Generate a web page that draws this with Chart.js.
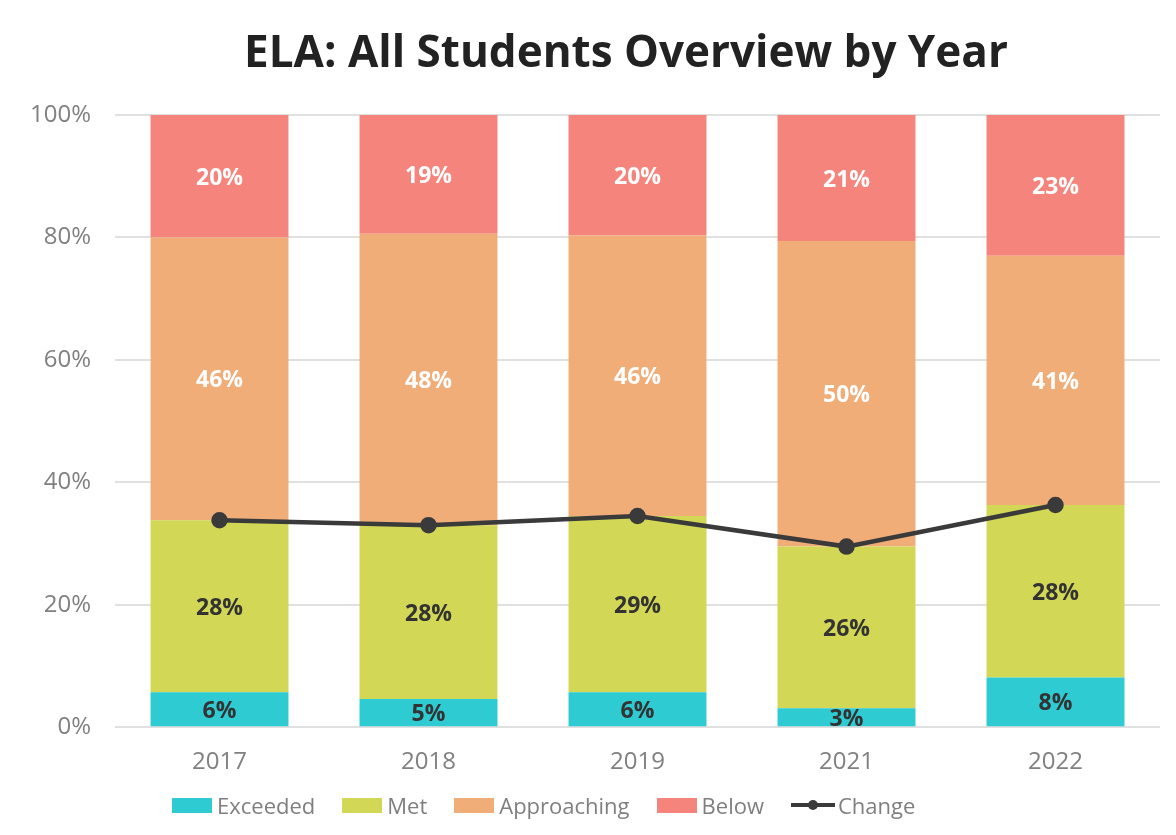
<!DOCTYPE html>
<html>
<head>
<meta charset="utf-8">
<script src="https://cdn.jsdelivr.net/npm/chart.js@4.4.1/dist/chart.umd.min.js"></script>
<style>
	html, body { margin: 0; padding: 0; background: #fff; }
	#wrap { position: relative; width: 1176px; height: 835px; }
	#title {
		position: absolute; left: 126px; width: 1000px; top: 22px;
		text-align: center; white-space: nowrap;
		font-family: 'Open Sans', sans-serif; font-weight: bold; font-size: 44px;
		line-height: 56px; color: #222;
	}
	#legend {
		position: absolute; left: 172px; top: 790px; height: 30px;
		display: flex; align-items: center; white-space: nowrap;
		font-family: 'Open Sans', sans-serif; font-size: 22px; color: #7f7f7f;
	}
	#legend .item { display: flex; align-items: center; margin-right: 27px; }
	#legend .box { width: 40px; height: 15px; margin-right: 5px; }
	#legend .ln { position: relative; width: 44px; height: 4px; background: #3a3a3a; margin-right: 3px; }
	#legend .ln::after {
		content: ''; position: absolute; left: 17px; top: -3px;
		width: 10px; height: 10px; border-radius: 50%; background: #3a3a3a;
	}
</style>
</head>
<body>
<div id="wrap">
	<canvas id="chart" width="1176" height="835"></canvas>
	<div id="title">ELA: All Students Overview by Year</div>
	<div id="legend"></div>
</div>
<script>
(function () {
	'use strict';

	var years = ['2017', '2018', '2019', '2021', '2022'];
	var exceeded = [5.7, 4.6, 5.7, 3.1, 8.1];
	var met = [28.1, 28.4, 28.8, 26.4, 28.2];
	var approaching = [46.2, 47.6, 45.8, 49.9, 40.7];
	var below = [20.0, 19.4, 19.7, 20.6, 23.0];
	var change = [33.8, 33.0, 34.5, 29.5, 36.3];
	var yTicks = [0, 20, 40, 60, 80, 100];

	var colors = {
		exceeded: '#2ecbd3',
		met: '#d2d755',
		approaching: '#f0ad78',
		below: '#f5847c',
		change: '#3a3a3a'
	};

	function barSet(label, data, color, textColor) {
		return {
			type: 'bar',
			label: label,
			data: data,
			backgroundColor: color,
			borderWidth: 0,
			stack: 'levels',
			order: 1,
			barPercentage: 0.66,
			categoryPercentage: 1,
			labelColor: textColor
		};
	}

	// labels in the middle of every bar segment
	var segLabels = {
		id: 'segLabels',
		afterDatasetsDraw: function (chart) {
			var ctx = chart.ctx;
			ctx.save();
			ctx.font = 'bold 23px "Open Sans"';
			ctx.textAlign = 'center';
			ctx.textBaseline = 'middle';
			chart.data.datasets.forEach(function (ds, i) {
				if (ds.type !== 'bar') {
					return;
				}
				var meta = chart.getDatasetMeta(i);
				meta.data.forEach(function (el, j) {
					var y = (el.y + el.base) / 2;
					ctx.fillStyle = ds.labelColor;
					ctx.fillText(Math.round(ds.data[j]) + '%', el.x, y + 2);
				});
			});
			ctx.restore();
		}
	};

	new Chart(document.getElementById('chart'), {
		data: {
			labels: years,
			datasets: [
				{
					type: 'line',
					label: 'Change',
					data: change,
					borderColor: colors.change,
					backgroundColor: colors.change,
					borderWidth: 4.5,
					pointRadius: 6,
					pointHoverRadius: 6,
					tension: 0,
					stack: 'change',
					order: 0
				},
				barSet('Exceeded', exceeded, colors.exceeded, '#333333'),
				barSet('Met', met, colors.met, '#333333'),
				barSet('Approaching', approaching, colors.approaching, '#ffffff'),
				barSet('Below', below, colors.below, '#ffffff')
			]
		},
		options: {
			responsive: false,
			animation: false,
			layout: { padding: { left: 6, right: 16, top: 115, bottom: 45 } },
			plugins: {
				legend: { display: false },
				tooltip: { enabled: false },
				title: { display: false }
			},
			scales: {
				x: {
					stacked: true,
					grid: { display: false },
					border: { display: false },
					ticks: {
						color: '#808080',
						font: { family: 'Open Sans', size: 24 },
						padding: 13
					}
				},
				y: {
					stacked: true,
					min: 0,
					max: 100,
					afterBuildTicks: function (axis) {
						axis.ticks = yTicks.map(function (v) { return { value: v }; });
					},
					grid: { color: '#e0e0e0', lineWidth: 2, drawTicks: false },
					border: { display: false },
					ticks: {
						color: '#808080',
						font: { family: 'Open Sans', size: 24 },
						padding: 24,
						callback: function (v) { return v + '%'; }
					}
				}
			}
		},
		plugins: [segLabels]
	});

	// legend as html
	var legend = document.getElementById('legend');
	[
		['Exceeded', colors.exceeded],
		['Met', colors.met],
		['Approaching', colors.approaching],
		['Below', colors.below]
	].forEach(function (it) {
		var d = document.createElement('div');
		d.className = 'item';
		d.innerHTML = '<span class="box" style="background:' + it[1] + '"></span><span>' + it[0] + '</span>';
		legend.appendChild(d);
	});
	var c = document.createElement('div');
	c.className = 'item';
	c.innerHTML = '<span class="ln"></span><span>Change</span>';
	legend.appendChild(c);
})();
</script>
</body>
</html>
